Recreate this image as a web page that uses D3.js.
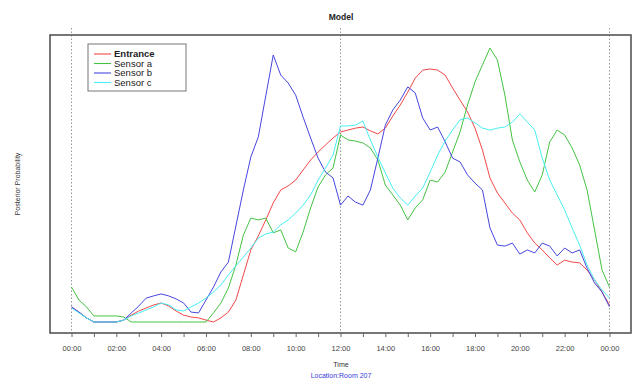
<!DOCTYPE html>
<html>
<head>
<meta charset="utf-8">
<script src="https://cdn.jsdelivr.net/npm/d3@7"></script>
<style>
  body { margin: 0; background: #fff; }
  svg { display: block; font-family: "Liberation Sans", Arial, sans-serif; }
</style>
</head>
<body>
<div id="chart"></div>
<script>
// readings every 20 minutes, 00:00 .. 24:00 (73 points)
const stepMinutes = 20;

const entrance = [
  .055,.036,.015,0,0,0,0,.007,.025,.040,.051,.062,.069,.058,.040,.025,.018,.015,.007,0,
  .015,.036,.080,.171,.262,.313,.371,.433,.480,.495,.516,.553,.589,.618,.644,.669,.691,.698,.705,.709,
  .695,.684,.705,.749,.789,.836,.887,.916,.920,.916,.898,.851,.807,.764,.705,.625,.524,.469,.433,.396,
  .371,.324,.287,.262,.233,.207,.225,.218,.215,.189,.153,.109,.062
];
const sensorA = [
  .127,.080,.055,.022,.022,.022,.022,.018,0,0,0,0,0,0,0,0,0,0,0,.033,
  .069,.124,.207,.316,.378,.371,.378,.324,.335,.269,.255,.327,.415,.491,.535,.560,.680,.662,.658,.651,
  .633,.589,.498,.462,.425,.371,.415,.444,.516,.509,.545,.618,.691,.789,.873,.935,.996,.953,.825,.662,
  .582,.516,.473,.535,.655,.698,.680,.633,.571,.480,.335,.189,.127
];
const sensorB = [
  .055,.036,.015,0,0,0,0,.007,.033,.058,.087,.095,.102,.095,.084,.069,.036,.033,.080,.127,
  .182,.218,.349,.480,.600,.673,.822,.971,.898,.869,.825,.745,.669,.596,.545,.524,.425,.458,.436,.425,
  .480,.596,.716,.771,.807,.855,.833,.742,.698,.709,.655,.596,.582,.535,.505,.480,.342,.280,.276,.287,
  .247,.262,.251,.287,.276,.240,.269,.251,.262,.196,.142,.109,.055
];
const sensorC = [
  .051,.033,.015,0,0,0,0,.007,.022,.033,.044,.055,.069,.062,.044,.040,.055,.069,.087,.109,
  .135,.171,.204,.236,.269,.305,.320,.327,.353,.371,.396,.425,.462,.516,.560,.607,.713,.713,.716,.731,
  .662,.600,.542,.487,.451,.425,.458,.487,.545,.607,.658,.698,.735,.742,.724,.705,.698,.705,.709,.727,
  .756,.727,.698,.596,.516,.462,.407,.342,.280,.207,.153,.116,.087
];

const seriesNames = ["Entrance", "Sensor a", "Sensor b", "Sensor c"];
const seriesColors = ["#f24848", "#44c244", "#4646e0", "#48eef2"];
const hourTicks = d3.range(0, 25);
const tickLabels = ["00:00","02:00","04:00","06:00","08:00","10:00","12:00",
                    "14:00","16:00","18:00","20:00","22:00","00:00"];
const guideHours = [0, 12, 24];

const width = 638, height = 381;
const box = {left: 50, right: 631, top: 35, bottom: 333};

const svg = d3.select("#chart").append("svg")
  .attr("width", width)
  .attr("height", height);

const x = d3.scaleLinear().domain([0, 24]).range([71.5, 609.5]);
const y = d3.scaleLinear().domain([0, 1]).range([322, 47]);

// dotted guides at midnight / noon / midnight
svg.append("g").selectAll("line")
  .data(guideHours)
  .join("line")
  .attr("x1", d => x(d)).attr("x2", d => x(d))
  .attr("y1", 28).attr("y2", box.bottom)
  .attr("stroke", "#999")
  .attr("stroke-width", 1)
  .attr("stroke-dasharray", "1.5,2");

// data lines
const line = d3.line()
  .x((d, i) => x(i * stepMinutes / 60))
  .y(d => y(d));

const allSeries = [entrance, sensorA, sensorB, sensorC];
svg.append("g").selectAll("path")
  .data(allSeries)
  .join("path")
  .attr("fill", "none")
  .attr("stroke", (d, i) => seriesColors[i])
  .attr("stroke-width", 1)
  .attr("stroke-linejoin", "round")
  .attr("d", line);

// plot frame
svg.append("rect")
  .attr("x", box.left).attr("y", box.top)
  .attr("width", box.right - box.left)
  .attr("height", box.bottom - box.top)
  .attr("fill", "none")
  .attr("stroke", "#555")
  .attr("stroke-width", 1.6);

// x axis: ticks each hour, label every two
const xAxis = svg.append("g")
  .attr("transform", `translate(0,${box.bottom})`)
  .call(d3.axisBottom(x)
    .tickValues(hourTicks)
    .tickSize(4)
    .tickFormat(d => d % 2 === 0 ? tickLabels[d / 2] : ""));
xAxis.select(".domain").remove();
xAxis.selectAll(".tick line").attr("stroke", "#666");
xAxis.selectAll(".tick text")
  .attr("y", 13)
  .attr("fill", "#444")
  .style("font-size", "7.5px")
  .style("font-family", "Liberation Sans, Arial, sans-serif");

// titles
svg.append("text")
  .attr("x", 341).attr("y", 20)
  .attr("text-anchor", "middle")
  .style("font-size", "8.5px")
  .style("font-weight", "bold")
  .attr("fill", "#222")
  .text("Model");

svg.append("text")
  .attr("x", 341).attr("y", 367)
  .attr("text-anchor", "middle")
  .style("font-size", "7px")
  .attr("fill", "#333")
  .text("Time");

svg.append("text")
  .attr("x", 341).attr("y", 378)
  .attr("text-anchor", "middle")
  .style("font-size", "7px")
  .attr("fill", "#3a3ad8")
  .text("Location:Room 207");

svg.append("text")
  .attr("transform", "translate(20,184) rotate(-90)")
  .attr("text-anchor", "middle")
  .style("font-size", "7px")
  .attr("fill", "#333")
  .text("Posterior Probability");

// legend
const legend = svg.append("g");
legend.append("rect")
  .attr("x", 88).attr("y", 44)
  .attr("width", 98).attr("height", 47)
  .attr("fill", "#fff")
  .attr("stroke", "#777")
  .attr("stroke-width", 1);

const rows = legend.selectAll("g.row")
  .data(seriesNames)
  .join("g")
  .attr("class", "row")
  .attr("transform", (d, i) => `translate(0,${54 + i * 9.5})`);

rows.append("line")
  .attr("x1", 94).attr("x2", 111)
  .attr("stroke", (d, i) => seriesColors[i])
  .attr("stroke-width", 1.1);

rows.append("text")
  .attr("x", 114).attr("y", 3.3)
  .style("font-size", "9.5px")
  .style("font-weight", (d, i) => i === 0 ? "bold" : "normal")
  .attr("fill", "#222")
  .text(d => d);
</script>
</body>
</html>
